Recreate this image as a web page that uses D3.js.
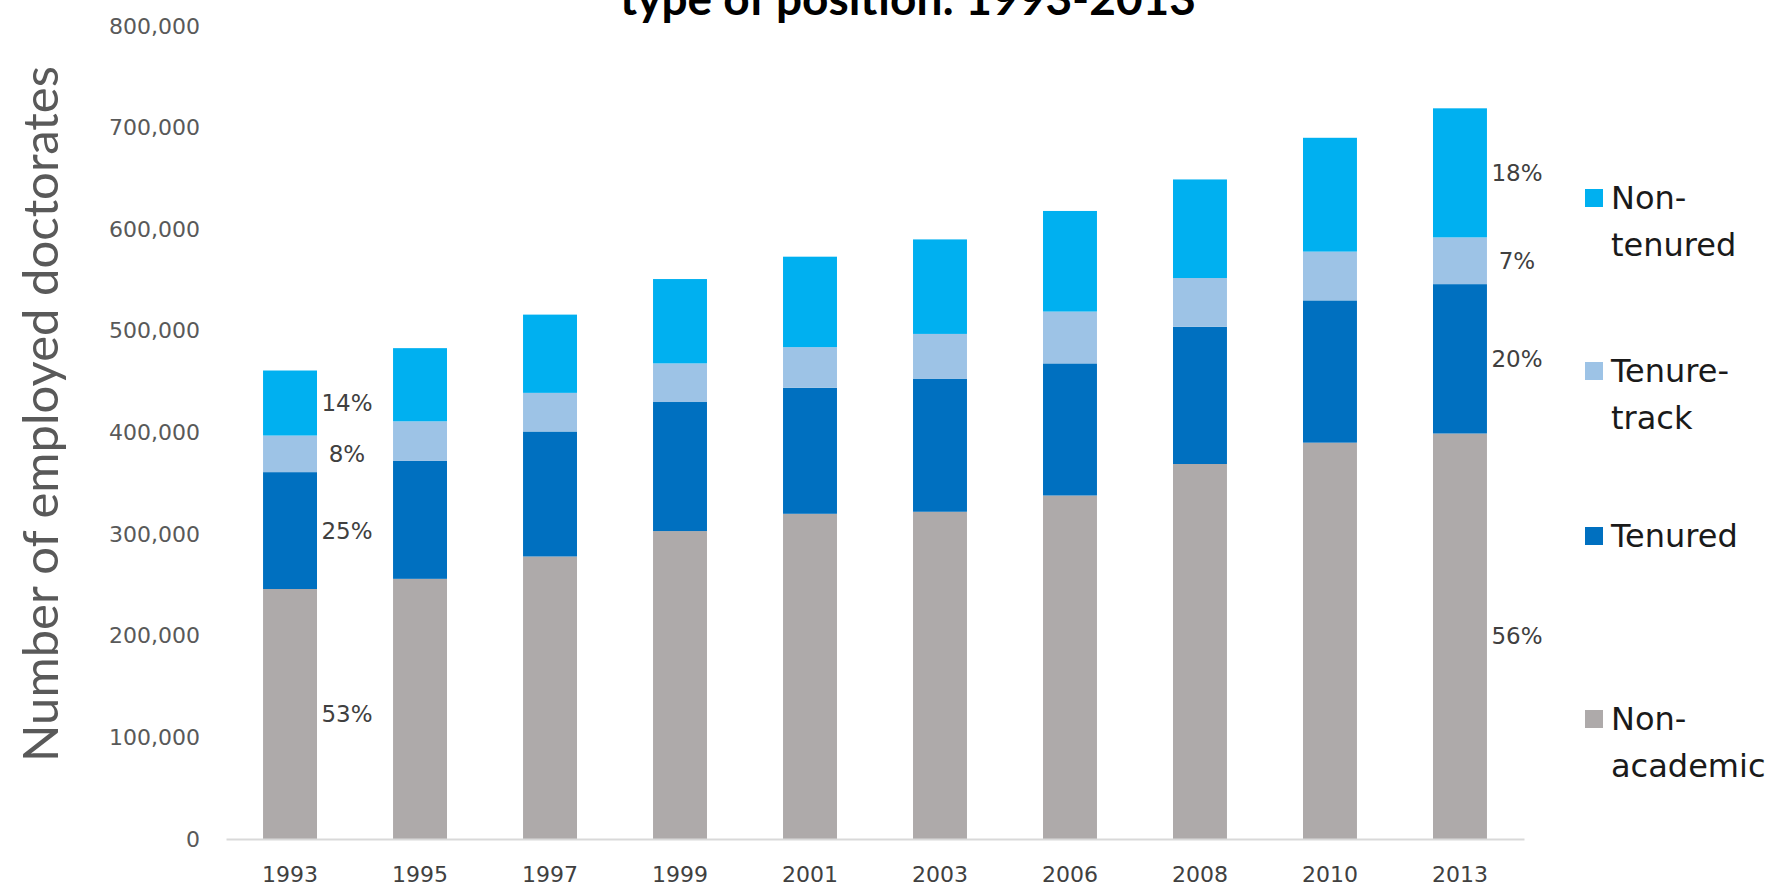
<!DOCTYPE html>
<html lang="en">

<head>
  <meta charset="UTF-8">
  <title>Employed doctorates by type of position</title>
  <style>
    body { margin: 0; background: #fff; }
    svg { display: block; }
  </style>
</head>

<body>
  <div id="svg"></div>

  <script src="https://d3js.org/d3.v7.min.js"></script>

  <script>
    const years = ['1993', '1995', '1997', '1999', '2001', '2003', '2006', '2008', '2010', '2013']
    const nonAcademic = [246000, 256000, 278000, 303000, 320000, 322000, 338000, 369000, 390000, 399000]
    const tenured = [115000, 116000, 123000, 127000, 124000, 131000, 130000, 135000, 140000, 147000]
    const tenureTrack = [36000, 39000, 38000, 38000, 40000, 44000, 51000, 48000, 48000, 46000]
    const nonTenured = [64000, 72000, 77000, 83000, 89000, 93000, 99000, 97000, 112000, 127000]

    const seriesKeys = ['nonAcademic', 'tenured', 'tenureTrack', 'nonTenured']
    const seriesNames = { nonAcademic: ['Non-', 'academic'], tenured: ['Tenured'], tenureTrack: ['Tenure-', 'track'], nonTenured: ['Non-', 'tenured'] }
    const colors = { nonAcademic: '#aeaaaa', tenured: '#0070c0', tenureTrack: '#9dc3e6', nonTenured: '#00b0f0' }

    // share labels shown next to the first and last bars
    const pct1993 = ['53%', '25%', '8%', '14%']
    const pct2013 = ['56%', '20%', '7%', '18%']
    const yTicks = [0, 100000, 200000, 300000, 400000, 500000, 600000, 700000, 800000]

    const width = 1781
    const height = 888
    const svg = d3.select('#svg').append('svg').attr('width', width).attr('height', height)

    const rows = years.map((y, i) => ({
      year: y,
      nonAcademic: nonAcademic[i],
      tenured: tenured[i],
      tenureTrack: tenureTrack[i],
      nonTenured: nonTenured[i]
    }))
    const stacked = d3.stack().keys(seriesKeys)(rows)

    const xScale = d3.scaleBand().domain(years).range([226, 1524]).paddingInner(0.585).paddingOuter(0.285)
    const yScale = d3.scaleLinear().domain([0, 800000]).range([839, 26])

    // title (only its last line shows, the top is cut off as in the source image)
    svg.append('text')
      .attr('x', 908).attr('y', 15)
      .attr('text-anchor', 'middle')
      .attr('font-family', 'Lato, sans-serif')
      .attr('font-weight', 'bold')
      .attr('font-size', '46px')
      .attr('fill', '#000')
      .text('type of position:  1993-2013')

    // y axis, labels only
    const yAxis = d3.axisLeft(yScale).tickValues(yTicks).tickFormat(d3.format(',')).tickSize(0).tickPadding(0)
    const gY = svg.append('g').attr('transform', 'translate(200,0)').call(yAxis)
    gY.select('.domain').remove()
    gY.selectAll('text')
      .attr('font-family', '"DejaVu Sans", sans-serif')
      .attr('font-size', '22px')
      .attr('fill', '#595959')

    svg.append('text')
      .attr('transform', 'translate(58,414) rotate(-90)')
      .attr('text-anchor', 'middle')
      .attr('font-family', 'Lato, sans-serif')
      .attr('font-size', '49px')
      .attr('fill', '#595959')
      .text('Number of employed doctorates')

    // bars
    svg.append('g').selectAll('g').data(stacked).enter().append('g')
      .attr('fill', d => colors[d.key])
      .selectAll('rect').data(d => d).enter().append('rect')
      .attr('x', d => xScale(d.data.year))
      .attr('y', d => yScale(d[1]))
      .attr('width', xScale.bandwidth())
      .attr('height', d => yScale(d[0]) - yScale(d[1]))

    // x axis
    const xAxis = d3.axisBottom(xScale).tickSize(0).tickPadding(27)
    const gX = svg.append('g').attr('transform', 'translate(0,839)').call(xAxis)
    gX.select('.domain').attr('stroke', '#d9d9d9').attr('stroke-width', 2)
    gX.selectAll('text')
      .attr('font-family', '"DejaVu Sans", sans-serif')
      .attr('font-size', '22px')
      .attr('fill', '#404040')

    // percent labels at the middle of each segment
    const pctLabels = []
    stacked.forEach((s, k) => {
      pctLabels.push({ year: years[0], seg: s[0], text: pct1993[k] })
      pctLabels.push({ year: years[years.length - 1], seg: s[s.length - 1], text: pct2013[k] })
    })
    svg.append('g').selectAll('text').data(pctLabels).enter().append('text')
      .attr('x', d => xScale(d.year) + xScale.bandwidth() + 30)
      .attr('y', d => yScale((d.seg[0] + d.seg[1]) / 2))
      .attr('dy', '0.35em')
      .attr('text-anchor', 'middle')
      .attr('font-family', '"DejaVu Sans", sans-serif')
      .attr('font-size', '23px')
      .attr('fill', '#404040')
      .text(d => d.text)

    // legend
    const legendY = { nonTenured: 198, tenureTrack: 371, tenured: 536, nonAcademic: 719 }
    const legend = svg.append('g').selectAll('g').data(seriesKeys).enter().append('g')
      .attr('transform', d => `translate(1585,${legendY[d]})`)
    legend.append('rect')
      .attr('x', 0).attr('y', -9).attr('width', 18).attr('height', 18)
      .attr('fill', d => colors[d])
    legend.append('text')
      .attr('font-family', '"DejaVu Sans", sans-serif')
      .attr('font-size', '32px')
      .attr('fill', '#1a1a1a')
      .selectAll('tspan').data(d => seriesNames[d]).enter().append('tspan')
      .attr('x', 26)
      .attr('y', (d, i) => i * 47)
      .attr('dy', '0.35em')
      .text(d => d)
  </script>
</body>

</html>
